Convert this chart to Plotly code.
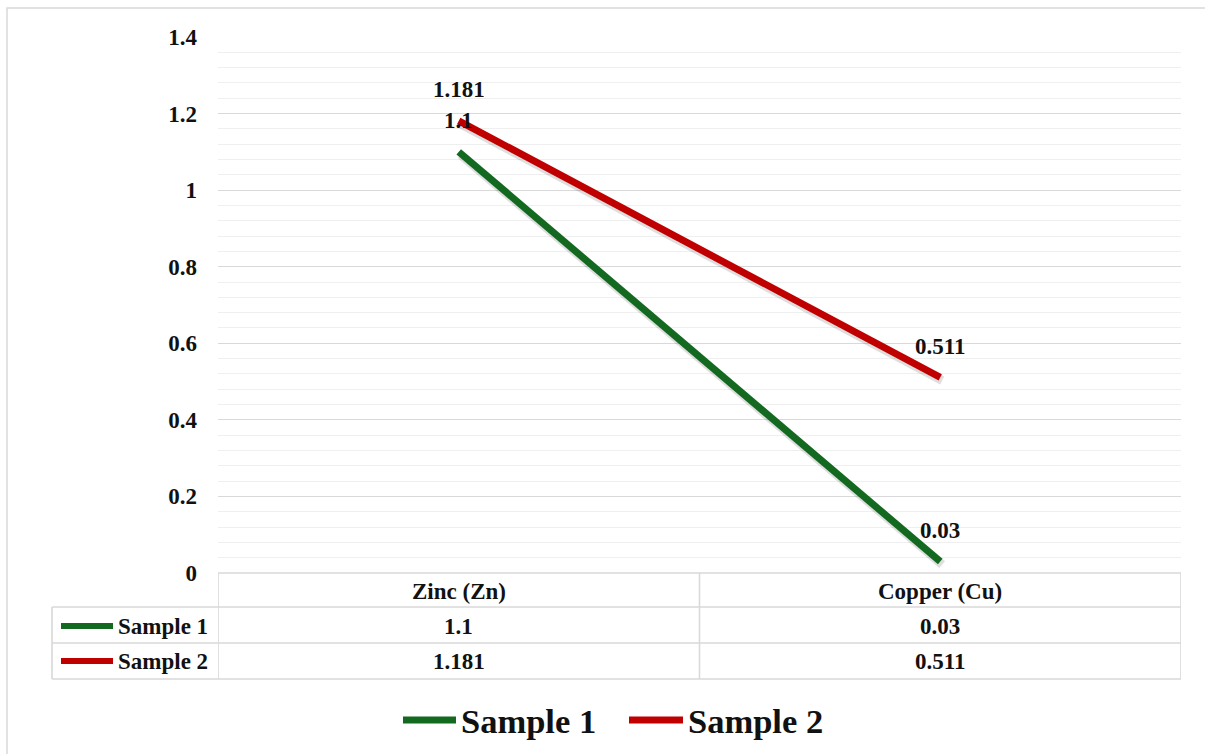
import plotly.graph_objects as go

# ---- data ----
categories = ["Zinc (Zn)", "Copper (Cu)"]
series_names = ["Sample 1", "Sample 2"]
sample1 = [1.1, 0.03]
sample2 = [1.181, 0.511]
series_values = [sample1, sample2]
series_colors = ["#12691f", "#c00000"]
y_ticks = [0, 0.2, 0.4, 0.6, 0.8, 1.0, 1.2, 1.4]
y_tick_labels = ["0", "0.2", "0.4", "0.6", "0.8", "1", "1.2", "1.4"]

W, H = 1205, 754
X0, X1, Y0, Y1 = 218, 1181, 37, 573  # plot area in pixels


def px_x(p):
    return (p - X0) / (X1 - X0)


def px_y(p):
    return (Y1 - p) / (Y1 - Y0)


FONT = "Liberation Serif"
TXT = "#111111"
GRID = "#d9d9d9"

xpos = [i + 0.5 for i in range(len(categories))]

fig = go.Figure()
# soft shadow under lines (Excel style)
for vals in series_values:
    fig.add_trace(go.Scatter(
        x=[x + 0.004 for x in xpos], y=[v - 0.008 for v in vals], mode="lines",
        line=dict(color="rgba(0,0,0,0.13)", width=9), showlegend=False,
        hoverinfo="skip"))
for name, vals, col in zip(series_names, series_values, series_colors):
    fig.add_trace(go.Scatter(
        x=xpos, y=vals, mode="lines", name=name,
        line=dict(color=col, width=7), showlegend=False,
        hoverinfo="skip"))

annotations = []
shapes = []

# data labels above points
for vals in series_values:
    for x, v in zip(xpos, vals):
        annotations.append(dict(
            x=x, y=v, xref="x", yref="y", text=f"{v:g}", showarrow=False,
            yshift=31, font=dict(family=FONT, size=23, color=TXT, weight="bold")))

# ---- data table ----
line_style = dict(color=GRID, width=1.6)
rows_y = [573, 607, 643, 679]
shapes.append(dict(type="line", xref="x", yref="paper", x0=0, x1=len(categories),
                   y0=px_y(573), y1=px_y(573), line=line_style))
for ry in rows_y[1:]:
    shapes.append(dict(type="line", xref="paper", yref="paper", x0=px_x(52), x1=1,
                       y0=px_y(ry), y1=px_y(ry), line=line_style))
shapes.append(dict(type="line", xref="paper", yref="paper", x0=px_x(52), x1=px_x(52),
                   y0=px_y(607), y1=px_y(679), line=line_style))
for i in range(len(categories) + 1):
    shapes.append(dict(type="line", xref="x", yref="paper", x0=i, x1=i,
                       y0=px_y(573), y1=px_y(679), line=line_style))

for x, c in zip(xpos, categories):
    annotations.append(dict(x=x, y=px_y(591), xref="x", yref="paper", text=c,
                            showarrow=False, yanchor="middle",
                            font=dict(family=FONT, size=23, color=TXT, weight="bold")))
row_centers = [626, 661]
for rc, name, vals, col in zip(row_centers, series_names, series_values, series_colors):
    shapes.append(dict(type="line", xref="paper", yref="paper", x0=px_x(61), x1=px_x(113),
                       y0=px_y(rc), y1=px_y(rc), line=dict(color=col, width=6)))
    annotations.append(dict(x=px_x(116), y=px_y(rc), xref="paper", yref="paper", text=name,
                            showarrow=False, xanchor="left", yanchor="middle",
                            font=dict(family=FONT, size=23, color=TXT, weight="bold")))
    for x, v in zip(xpos, vals):
        annotations.append(dict(x=x, y=px_y(rc), xref="x", yref="paper", text=f"{v:g}",
                                showarrow=False, yanchor="middle",
                                font=dict(family=FONT, size=23, color=TXT, weight="bold")))

# ---- legend (bottom) ----
legend_items = [(403, 456, 459), (629, 683, 686)]
for (a, b, t), name, col in zip(legend_items, series_names, series_colors):
    shapes.append(dict(type="line", xref="paper", yref="paper", x0=px_x(a), x1=px_x(b),
                       y0=px_y(720), y1=px_y(720), line=dict(color=col, width=7)))
    annotations.append(dict(x=px_x(t), y=px_y(721), xref="paper", yref="paper", text=name,
                            showarrow=False, xanchor="left", yanchor="middle",
                            font=dict(family=FONT, size=34.5, color=TXT, weight="bold")))

shapes.append(dict(type="rect", xref="paper", yref="paper", x0=px_x(7), x1=px_x(1215),
                   y0=px_y(765), y1=px_y(8), line=dict(color=GRID, width=1.5),
                   layer="below"))

fig.update_layout(
    width=W, height=H,
    margin=dict(l=X0, r=W - X1, t=Y0, b=H - Y1, pad=0),
    paper_bgcolor="white", plot_bgcolor="white",
    font=dict(family=FONT, color=TXT),
    xaxis=dict(range=[0, len(categories)], showgrid=False, zeroline=False,
               showticklabels=False, showline=False, ticks="", fixedrange=True),
    yaxis=dict(range=[0, 1.4], tickvals=y_ticks, ticktext=y_tick_labels,
               showgrid=True, gridcolor=GRID, gridwidth=1.4, zeroline=False,
               showline=False, ticks="", ticklabelstandoff=20,
               tickfont=dict(family=FONT, size=23, color=TXT, weight="bold"),
               minor=dict(dtick=0.04, tick0=0, showgrid=True, gridcolor="#efefef",
                          gridwidth=1.4),
               fixedrange=True),
    shapes=shapes, annotations=annotations, showlegend=False,
)

fig.write_html("out.html")
